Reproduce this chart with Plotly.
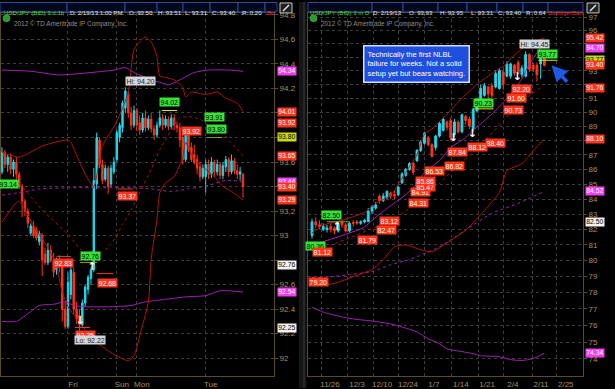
import math
import plotly.graph_objects as go

# ------------------------------------------------------------------
# DATA - left panel: USD/JPY (BID) 3 d 1h  (hourly bars, index 0..84)
# ------------------------------------------------------------------
h_open = [93.52, 93.68, 93.58, 93.64, 93.54, 93.60, 93.50, 93.40, 93.28, 93.20,
          93.02, 93.08, 93.05, 92.95, 93.00, 92.85, 92.78, 92.88, 92.80, 92.72,
          92.80, 92.78, 92.40, 92.26, 92.52, 92.70, 92.40, 92.35, 92.27, 92.45,
          92.56, 92.65, 92.72, 93.42, 93.78, 93.58, 93.46, 93.55, 93.42, 93.52,
          93.62, 93.80, 93.88, 94.04, 94.15, 94.00, 93.90, 94.02, 93.92, 93.86,
          93.96, 93.88, 93.95, 93.87, 93.82, 93.90, 93.96, 93.90, 93.95, 93.89,
          93.96, 93.90, 93.88, 93.80, 93.62, 93.85, 93.72, 93.66, 93.62, 93.56,
          93.48, 93.48, 93.58, 93.50, 93.60, 93.52, 93.58, 93.49, 93.56, 93.62,
          93.52, 93.61, 93.53, 93.50, 93.50]
h_high = [93.72, 93.70, 93.66, 93.67, 93.62, 93.64, 93.52, 93.42, 93.30, 93.22,
          93.10, 93.12, 93.07, 93.04, 93.02, 92.90, 92.94, 92.92, 92.86, 92.82,
          92.84, 92.80, 92.46, 92.70, 92.76, 92.74, 92.46, 92.40, 92.48, 92.60,
          92.68, 92.74, 93.55, 93.84, 93.80, 93.62, 93.58, 93.57, 93.58, 93.64,
          93.86, 93.92, 94.10, 94.21, 94.18, 94.05, 94.06, 94.04, 93.98, 94.00,
          94.02, 93.98, 94.00, 93.90, 93.93, 94.02, 93.99, 93.98, 93.97, 93.99,
          93.99, 93.93, 93.92, 93.86, 93.88, 93.87, 93.76, 93.74, 93.66, 93.60,
          93.58, 93.62, 93.62, 93.64, 93.62, 93.62, 93.60, 93.60, 93.65, 93.64,
          93.66, 93.63, 93.58, 93.56, 93.51]
h_low = [93.50, 93.55, 93.52, 93.50, 93.48, 93.46, 93.38, 93.15, 93.16, 93.06,
         93.00, 92.98, 92.96, 92.92, 92.67, 92.76, 92.76, 92.78, 92.66, 92.68,
         92.70, 92.30, 92.24, 92.24, 92.48, 92.36, 92.28, 92.22, 92.25, 92.42,
         92.52, 92.60, 92.70, 93.38, 93.55, 93.42, 93.44, 93.34, 93.40, 93.50,
         93.60, 93.76, 93.84, 94.00, 93.96, 93.86, 93.88, 93.85, 93.82, 93.84,
         93.85, 93.86, 93.84, 93.78, 93.80, 93.88, 93.86, 93.88, 93.86, 93.87,
         93.86, 93.84, 93.72, 93.58, 93.60, 93.68, 93.60, 93.58, 93.50, 93.44,
         93.46, 93.35, 93.46, 93.47, 93.48, 93.49, 93.46, 93.46, 93.52, 93.48,
         93.50, 93.50, 93.46, 93.45, 93.31]
h_close = [93.68, 93.58, 93.64, 93.54, 93.60, 93.50, 93.40, 93.28, 93.20, 93.10,
           93.08, 93.00, 92.98, 93.02, 92.80, 92.78, 92.88, 92.80, 92.70, 92.78,
           92.76, 92.40, 92.26, 92.62, 92.72, 92.40, 92.32, 92.27, 92.45, 92.58,
           92.66, 92.72, 93.45, 93.80, 93.58, 93.45, 93.55, 93.40, 93.55, 93.60,
           93.84, 93.90, 94.08, 94.18, 94.00, 93.90, 94.02, 93.90, 93.86, 93.96,
           93.88, 93.95, 93.87, 93.82, 93.90, 93.96, 93.90, 93.95, 93.89, 93.96,
           93.90, 93.88, 93.78, 93.62, 93.85, 93.70, 93.62, 93.60, 93.55, 93.48,
           93.55, 93.58, 93.50, 93.60, 93.52, 93.58, 93.49, 93.57, 93.62, 93.52,
           93.61, 93.53, 93.50, 93.52, 93.40]
h_xtick_labels = ["Fri", "Sun", "Mon", "Tue"]
h_xtick_bars = [23, 40, 47, 71]
h_ytick_values = [92.0, 92.2, 92.4, 92.6, 92.8, 93.0, 93.2, 93.4, 93.6, 93.8, 94.0, 94.2, 94.4, 94.6, 94.8]
# labels left blank are the ones covered by price bubbles in the reference
h_ytick_labels = ["92", "92.2", "92.4", "92.6", "", "93", "93.2", "",
                  "93.6", "", "", "94.2", "94.4", "94.6", "94.8"]

# study lines (bar index, price)
h_bbl_up_i = [0, 10, 20, 31, 39, 43, 46, 52, 55, 58, 62, 67, 72, 79, 84]
h_bbl_up_v = [94.35, 94.34, 94.31, 94.33, 94.35, 94.37, 94.33, 94.27, 94.25, 94.23, 94.27, 94.33, 94.35, 94.35, 94.34]
h_bbl_lo_i = [0, 5, 10, 13, 18, 22, 25, 29, 38, 45, 50, 57, 64, 71, 76, 84]
h_bbl_lo_v = [92.30, 92.30, 92.38, 92.43, 92.44, 92.46, 92.43, 92.42, 92.42, 92.43, 92.46, 92.48, 92.50, 92.51, 92.55, 92.54]
h_bbl_mid_i = [0, 6, 13, 24, 34, 45, 52, 59, 65, 72, 78, 84]
h_bbl_mid_v = [93.33, 93.35, 93.38, 93.39, 93.39, 93.39, 93.38, 93.36, 93.38, 93.41, 93.45, 93.44]
h_bb_up_i = [0, 6, 14, 20, 23, 24, 27, 30, 32, 35, 40, 44, 46, 48, 50, 52, 54, 55, 57, 60, 63, 64, 66, 71, 75, 78, 82, 84]
h_bb_up_v = [93.68, 93.64, 93.73, 93.77, 93.78, 93.76, 93.60, 93.46, 93.40, 93.73, 93.93, 94.17, 94.52, 94.58,
             94.62, 94.58, 94.46, 94.30, 94.29, 94.27, 94.21, 94.13, 94.17, 94.15, 94.17, 94.12, 94.08, 94.01]
h_bb_lo_i = [0, 5, 6, 11, 17, 19, 21, 23, 28, 33, 39, 44, 46, 48, 51, 52, 54, 55, 57, 60, 63, 64, 67, 71, 74, 77, 80, 84]
h_bb_lo_v = [93.11, 93.27, 93.28, 93.08, 92.86, 92.75, 92.54, 92.42, 92.26, 92.13, 92.03, 91.98, 92.02, 92.18,
             92.46, 92.81, 93.13, 93.35, 93.43, 93.48, 93.64, 93.76, 93.62, 93.54, 93.48, 93.40, 93.36, 93.29]
h_bb_mid_i = [6, 14, 23, 28, 32, 38, 42, 45, 48, 52, 55, 59, 62, 65, 69, 72, 76, 79, 84]
h_bb_mid_v = [93.43, 93.21, 93.01, 92.87, 92.82, 92.93, 93.09, 93.21, 93.35, 93.54, 93.70, 93.86, 93.96, 93.97,
              93.95, 93.90, 93.86, 93.78, 93.65]

# price bubbles in the left chart
h_lbl_text = ["Hi: 94.20", "94.02", "93.92", "93.91", "93.80", "93.37", "93.14", "92.83", "92.76", "92.68", "92.25", "Lo: 92.22"]
h_lbl_bar = [48.4, 58.5, 65.9, 73.9, 74.6, 43.9, 2.1, 21.6, 31.0, 36.6, 29.0, 30.7]
h_lbl_price = [94.26, 94.09, 93.85, 93.97, 93.87, 93.32, 93.42, 92.78, 92.83, 92.61, 92.19, 92.15]
h_lbl_kind = ["extreme", "buy", "sell", "buy", "buy", "sell", "buy", "sell", "buy", "sell", "sell", "extreme"]
h_arrow_bar = [31.4, 27.2]
h_arrow_price = [92.74, 92.30]
h_arrow_dir = ["up", "down"]
h_sig_from = [55.7, 27.2, 71.4, 19.0, 33.0, 25.4, 40.4]
h_sig_to = [61.0, 33.1, 76.7, 24.0, 38.7, 30.7, 45.6]
h_sig_level = [94.02, 92.78, 93.80, 92.83, 92.69, 92.25, 93.38]
h_sig_kind = ["buy", "hold", "hold", "sell", "sell", "sell", "sell"]

# price-axis bubbles, left chart
h_axis_text = ["94.34", "94.01", "93.92", "93.80", "93.65", "93.44", "93.40", "93.29", "92.76", "92.54", "92.25"]
h_axis_kind = ["ma", "band", "band", "hold", "band", "ma", "band", "band", "mark", "ma", "mark"]

# ------------------------------------------------------------------
# DATA - right panel: USD/JPY (BID) 3 m D  (daily bars, index 0..62)
# ------------------------------------------------------------------
d_open = [81.6, 82.5, 82.3, 82.0, 82.0, 82.2, 82.1, 81.9, 82.5, 82.3,
          81.9, 82.45, 82.5, 82.4, 82.5, 82.5, 83.2, 83.4, 84.2, 83.9,
          84.1, 84.4, 84.3, 84.3, 85.1, 85.6, 86.0, 86.4, 86.6, 87.3,
          87.8, 88.2, 87.7, 87.5, 88.3, 88.7, 89.3, 89.4, 88.4, 89.3,
          88.6, 89.7, 89.5, 88.8, 90.1, 90.9, 91.2, 91.8, 91.9, 91.8,
          91.7, 92.9, 92.6, 92.6, 93.4, 93.6, 92.7, 92.6, 94.2, 93.4,
          93.4, 93.5, 93.93]
d_high = [82.7, 82.8, 82.6, 82.4, 82.3, 82.4, 82.2, 82.5, 82.6, 82.4,
          82.5, 82.6, 82.6, 82.6, 82.7, 83.4, 83.6, 83.8, 84.3, 84.4,
          84.6, 84.5, 84.6, 84.9, 85.8, 86.1, 86.5, 86.5, 87.4, 88.0,
          88.6, 88.3, 87.8, 88.4, 89.3, 89.6, 89.4, 89.6, 89.5, 89.4,
          89.9, 89.8, 89.7, 90.3, 91.0, 92.0, 92.1, 91.9, 92.1, 93.0,
          93.2, 93.1, 93.7, 93.6, 93.5, 93.8, 93.4, 94.45, 94.3, 93.6,
          93.6, 94.0, 93.95]
d_low = [81.4, 82.1, 82.0, 81.9, 81.8, 81.8, 81.7, 81.8, 82.1, 81.8,
         81.8, 82.2, 82.3, 82.3, 82.4, 82.5, 83.0, 83.3, 83.7, 83.8,
         84.0, 84.0, 84.0, 84.2, 85.0, 85.5, 85.9, 85.6, 86.5, 87.2,
         87.7, 87.6, 86.8, 87.3, 88.2, 88.6, 88.7, 88.0, 88.2, 88.5,
         88.5, 89.1, 88.8, 88.6, 90.0, 90.8, 91.1, 90.8, 91.0, 91.7,
         91.6, 91.6, 92.5, 92.4, 92.6, 92.7, 92.5, 92.5, 92.9, 92.9,
         92.2, 92.4, 93.31]
d_close = [82.5, 82.3, 82.2, 82.2, 82.1, 82.0, 81.9, 82.3, 82.3, 81.9,
           82.4, 82.4, 82.4, 82.5, 82.6, 83.2, 83.5, 83.6, 83.9, 84.2,
           84.5, 84.2, 84.2, 84.8, 85.7, 86.0, 86.4, 85.8, 87.3, 87.9,
           88.5, 87.7, 86.9, 88.3, 89.2, 89.5, 88.9, 88.2, 89.3, 88.6,
           89.8, 89.4, 89.0, 90.2, 90.9, 91.7, 91.9, 91.3, 91.2, 92.8,
           93.0, 92.0, 93.5, 93.5, 92.8, 92.8, 93.2, 94.2, 93.1, 93.1,
           92.7, 93.9, 93.40]
d_xtick_labels = ["11/26", "12/3", "12/10", "12/24", "1/7", "1/14", "1/21", "2/4", "2/11", "2/25"]
d_xtick_bars = [2.4, 9.6, 16.3, 23.2, 30.1, 37.3, 44.3, 51.2, 58.7, 65.3]
d_ytick_values = list(range(74, 98))
# blank = covered by a price bubble in the reference
d_ytick_labels = [str(v) if v not in (88, 92, 94, 95) else "" for v in d_ytick_values]

d_bb_up_i = [0, 3, 8, 14, 17, 21, 23, 25, 28, 30, 32, 36, 40, 44, 48, 52, 53, 56, 59, 62]
d_bb_up_v = [81.77, 82.28, 82.60, 83.12, 83.71, 84.24, 85.0, 85.8, 87.0, 88.45, 88.80, 89.85, 90.99, 92.00,
             92.80, 93.53, 93.90, 94.64, 95.16, 95.42]
d_ma_i = [2, 10, 14, 16, 20, 25, 28, 30, 34, 37, 41, 43, 48, 52, 56, 58, 61]
d_ma_v = [81.13, 81.77, 82.15, 82.60, 83.38, 84.3, 85.0, 85.8, 86.6, 87.5, 88.2, 88.7, 89.85, 91.0, 92.4, 93.5, 94.70]
d_bb_mid_i = [0, 5, 10, 15, 21, 26, 30, 34, 38, 42, 46, 51, 55, 61]
d_bb_mid_v = [80.69, 81.0, 81.45, 81.96, 82.54, 83.38, 84.17, 85.05, 86.05, 86.93, 87.96, 89.36, 90.56, 91.76]
d_bb_lo_i = [0, 3, 7, 11, 16, 19, 22, 25, 29, 32, 36, 41, 46, 50, 52, 56, 59, 62]
d_bb_lo_v = [78.51, 78.45, 78.63, 79.0, 79.43, 80.06, 80.88, 81.0, 80.69, 80.56, 81.13, 81.96, 83.25, 84.44,
             85.91, 86.39, 87.27, 88.10]
d_bbl_mid_i = [0, 3, 10, 16, 21, 26, 34, 41, 48, 55, 62]
d_bbl_mid_v = [78.94, 78.94, 79.12, 79.31, 79.74, 80.06, 80.88, 81.96, 83.06, 83.71, 84.52]
d_bbl_lo_i = [0, 3, 7, 11, 16, 21, 24, 28, 31, 34, 36, 40, 43, 45, 50, 53, 56, 59, 62]
d_bbl_lo_v = [77.10, 76.80, 76.56, 76.38, 76.26, 76.08, 75.90, 75.60, 75.19, 74.90, 74.60, 74.43, 74.31,
              74.19, 74.13, 73.96, 73.91, 74.02, 74.34]

d_lbl_text = ["Hi: 94.45", "93.77", "92.20", "91.60", "90.73", "90.23", "88.40", "88.12", "87.84", "86.82",
              "86.53", "84.91", "85.47", "85.86", "84.31", "83.12", "82.47", "81.79", "82.50", "80.36",
              "81.12", "79.20"]
d_lbl_bar = [59.4, 62.8, 55.9, 54.5, 53.7, 45.7, 48.9, 44.1, 38.8, 38.0,
             32.6, 28.9, 30.2, 30.2, 28.3, 20.6, 19.8, 14.7, 5.3, 0.8, 2.7, 1.6]
d_lbl_price = [95.02, 94.27, 91.65, 90.99, 90.14, 90.63, 87.83, 87.55, 87.2, 86.25,
               85.91, 84.5, 84.84, 85.24, 83.71, 82.54, 81.96, 81.32, 82.93, 80.94, 80.56, 78.63]
d_lbl_kind = ["extreme", "buy", "sell", "sell", "sell", "buy", "sell", "sell", "sell", "sell",
              "sell", "sell", "sell", "sell", "sell", "sell", "sell", "sell", "buy", "buy", "sell", "sell"]
d_arrow_bar = [6.7, 37.7, 42.8, 54.8]
d_arrow_price = [82.15, 88.17, 88.45, 92.5]
d_arrow_dir = ["up", "down", "down", "down"]
d_sig_from = [43.3, 60.4, 4.0]
d_sig_to = [48.4, 65.5, 10.0]
d_sig_level = [90.23, 93.77, 82.50]
d_sig_kind = ["buy", "buy", "hold"]

d_axis_text = ["95.42", "94.70", "93.77", "93.40", "91.76", "88.10", "84.52", "82.50", "74.34"]
d_axis_kind = ["band", "ma", "hold", "band", "band", "band", "ma", "mark", "ma"]

note_text = "Technically the first NLBL<br>failure for weeks. Not a solid<br>setup yet but bears watching."

# ------------------------------------------------------------------
# STYLE / LAYOUT
# ------------------------------------------------------------------
W, H = 615, 389
FONT = "Liberation Sans, Arial, sans-serif"


def fx(px):
    return px / W


def fy(py):
    return 1 - py / H


CYAN = "#1fd8ec"
RED = "#ff3418"
DRED = "#b3140c"
PURP = "#a21fb5"
TAN = "#a8915e"
GRID = "#3d3d3d"
FRAME = "#5c4b28"
BOX = {
    "sell": ("#ff3418", "#ffffff"),
    "band": ("#ff3418", "#ffffff"),
    "buy": ("#36e436", "#000000"),
    "extreme": ("#d6d6d6", "#202020"),
    "ma": ("#f23ef2", "#ffffff"),
    "hold": ("#c4dc12", "#000000"),
    "mark": ("#f2f2f2", "#000000"),
}
SIGC = {"buy": "#e8e020", "hold": "#9a9a10", "sell": "#ff3418"}

fig = go.Figure()


def candles(o, h, l, c, xa, ya):
    fig.add_trace(go.Candlestick(
        x=list(range(len(o))), open=o, high=h, low=l, close=c, xaxis=xa, yaxis=ya,
        increasing=dict(line=dict(color=CYAN, width=1), fillcolor=CYAN),
        decreasing=dict(line=dict(color=RED, width=1), fillcolor=RED),
        whiskerwidth=0, showlegend=False, hoverinfo="skip"))


def line(idx, val, color, dash, xa, ya):
    fig.add_trace(go.Scatter(
        x=idx, y=val, mode="lines", xaxis=xa, yaxis=ya, showlegend=False, hoverinfo="skip",
        line=dict(color=color, width=1, dash=dash, shape="spline", smoothing=0.6)))


def signals(a, b, lev, kind, xa, ya):
    for x0, x1, v, k in zip(a, b, lev, kind):
        fig.add_trace(go.Scatter(x=[x0, x1], y=[v, v], mode="lines", xaxis=xa, yaxis=ya,
                                 showlegend=False, hoverinfo="skip",
                                 line=dict(color=SIGC[k], width=1)))


# left panel
line(h_bbl_up_i, h_bbl_up_v, PURP, "solid", "x", "y")
line(h_bbl_lo_i, h_bbl_lo_v, PURP, "solid", "x", "y")
line(h_bbl_mid_i, h_bbl_mid_v, PURP, "3px,3px", "x", "y")
line(h_bb_up_i, h_bb_up_v, DRED, "solid", "x", "y")
line(h_bb_lo_i, h_bb_lo_v, DRED, "solid", "x", "y")
line(h_bb_mid_i, h_bb_mid_v, DRED, "3px,3px", "x", "y")
signals(h_sig_from, h_sig_to, h_sig_level, h_sig_kind, "x", "y")
candles(h_open, h_high, h_low, h_close, "x", "y")

# right panel
line(d_bbl_lo_i, d_bbl_lo_v, PURP, "solid", "x2", "y2")
line(d_bbl_mid_i, d_bbl_mid_v, PURP, "3px,3px", "x2", "y2")
line(d_ma_i, d_ma_v, PURP, "solid", "x2", "y2")
line(d_bb_up_i, d_bb_up_v, DRED, "solid", "x2", "y2")
line(d_bb_lo_i, d_bb_lo_v, DRED, "solid", "x2", "y2")
line(d_bb_mid_i, d_bb_mid_v, DRED, "3px,3px", "x2", "y2")
signals(d_sig_from, d_sig_to, d_sig_level, d_sig_kind, "x2", "y2")
candles(d_open, d_high, d_low, d_close, "x2", "y2")

# white signal arrows
for bars, prices, dirs, xa, ya in [(h_arrow_bar, h_arrow_price, h_arrow_dir, "x", "y"),
                                   (d_arrow_bar, d_arrow_price, d_arrow_dir, "x2", "y2")]:
    fig.add_trace(go.Scatter(
        x=bars, y=prices, mode="text", xaxis=xa, yaxis=ya, showlegend=False, hoverinfo="skip",
        text=["<b>↑</b>" if d == "up" else "<b>↓</b>" for d in dirs],
        textfont=dict(color="#ffffff", size=11, family="DejaVu Sans")))

ann = []
# price bubbles inside charts
for texts, bars, prices, kinds, xr, yr in [(h_lbl_text, h_lbl_bar, h_lbl_price, h_lbl_kind, "x", "y"),
                                           (d_lbl_text, d_lbl_bar, d_lbl_price, d_lbl_kind, "x2", "y2")]:
    for t, b, p, k in zip(texts, bars, prices, kinds):
        bg, fg = BOX[k]
        yv = math.log10(p) if yr == "y2" else p
        ann.append(dict(x=b, y=yv, xref=xr, yref=yr, text=t, showarrow=False, bgcolor=bg,
                        font=dict(size=7, color=fg, family=FONT), borderpad=0.5))

# price-axis bubbles
for texts, kinds, yr, xpx in [(h_axis_text, h_axis_kind, "y", 277), (d_axis_text, d_axis_kind, "y2", 585)]:
    for t, k in zip(texts, kinds):
        bg, fg = BOX[k]
        v = float(t)
        yv = math.log10(v) if yr == "y2" else v
        ann.append(dict(x=fx(xpx), y=yv, xref="paper", yref=yr, text=t, showarrow=False,
                        xanchor="left", bgcolor=bg, font=dict(size=6.8, color=fg, family=FONT), borderpad=0.3))

# comment box and blue arrow
ann.append(dict(x=fx(363), y=fy(43), xref="paper", yref="paper", xanchor="left", yanchor="top",
                text=note_text, align="left", showarrow=False, bgcolor="#1f4fdc",
                bordercolor="#cfe0ff", borderwidth=1.5, borderpad=3,
                font=dict(size=7.5, color="#ffffff", family=FONT)))
ann.append(dict(x=63.9, y=math.log10(93.4), xref="x2", yref="y2", ax=17, ay=18, text="",
                showarrow=True, arrowhead=2, arrowsize=0.9, arrowwidth=3.5, arrowcolor="#1f5ae6"))

shapes = []
# header bars
HDR_TXT = "#e0e4ee"
hdr = [
    [("USD/JPY (BID) 3 d 1h", 0, 67, "#44d844"), ("D: 2/19/13 1:00 PM", 67, 125, HDR_TXT),
     ("O: 93.50", 125, 157, HDR_TXT), ("H: 93.51", 157, 183, HDR_TXT), ("L: 93.31", 183, 210, HDR_TXT),
     ("C: 93.40", 210, 238, HDR_TXT), ("R: 0.20", 238, 265, HDR_TXT), ("Bo", 265, 277, "#e82828")],
    [("USD/JPY (BID) 3 m D", 308, 372, "#44d844"), ("D: 2/19/13", 372, 403, HDR_TXT),
     ("O: 93.93", 403, 438, HDR_TXT), ("H: 93.95", 438, 467, HDR_TXT), ("L: 93.31", 467, 497, HDR_TXT),
     ("C: 93.40", 497, 523, HDR_TXT), ("R: 0.64", 523, 548, HDR_TXT), ("BollingerBan", 548, 583, "#e82828")],
]
for grp in hdr:
    for t, a, b, col in grp:
        shapes.append(dict(type="rect", xref="paper", yref="paper", x0=fx(a), x1=fx(b), y0=fy(10), y1=fy(0.5),
                           fillcolor="#00081c", line=dict(color="#2b4d9c", width=1), layer="above"))
        ann.append(dict(x=fx((a + b) / 2), y=fy(5.3), xref="paper", yref="paper", xanchor="center", text=t,
                        showarrow=False, font=dict(size=6.1, color=col, family=FONT)))
# icons
for a in (280, 587):
    shapes.append(dict(type="rect", xref="paper", yref="paper", x0=fx(a), x1=fx(a + 12), y0=fy(11), y1=fy(1),
                       fillcolor="#202020", line=dict(color="#c8c8c8", width=1), layer="above"))
    shapes.append(dict(type="line", xref="paper", yref="paper", x0=fx(a + 3), x1=fx(a + 9), y0=fy(9), y1=fy(3),
                       line=dict(color="#e8e8e8", width=1.5), layer="above"))
# copyright line
for a in (3, 310):
    shapes.append(dict(type="circle", xref="paper", yref="paper", x0=fx(a), x1=fx(a + 7), y0=fy(20), y1=fy(13),
                       fillcolor="#2a9a2a", line=dict(color="#60d060", width=0.5), layer="above"))
    ann.append(dict(x=fx(a + 9), y=fy(16.5), xref="paper", yref="paper", xanchor="left",
                    text="2012 © TD Ameritrade IP Company, Inc.", showarrow=False,
                    font=dict(size=6.4, color="#8e8e8e", family=FONT)))
# panel separator
shapes.append(dict(type="rect", xref="paper", yref="paper", x0=fx(299), x1=fx(306.5), y0=0, y1=1,
                   fillcolor="#161616", line=dict(width=0), layer="above"))
shapes.append(dict(type="line", xref="paper", yref="paper", x0=fx(304), x1=fx(304), y0=0, y1=1,
                   line=dict(color="#3a3a3a", width=1), layer="above"))

common_x = dict(showgrid=True, gridcolor=GRID, griddash="dot", gridwidth=1, zeroline=False,
                showline=True, linecolor=FRAME, mirror=True, ticks="",
                tickfont=dict(size=8, color=TAN, family=FONT), rangeslider=dict(visible=False),
                fixedrange=True)
common_y = dict(showgrid=True, gridcolor=GRID, griddash="dot", gridwidth=1, zeroline=False,
                showline=True, linecolor=FRAME, mirror=True, side="right", ticks="outside",
                ticklen=3, tickcolor=FRAME, tickfont=dict(size=8, color=TAN, family=FONT),
                fixedrange=True)

fig.update_layout(
    width=W, height=H, margin=dict(l=0, r=0, t=0, b=0),
    paper_bgcolor="#000000", plot_bgcolor="#000000", showlegend=False, hovermode=False,
    xaxis=dict(domain=[fx(1), fx(274)], range=[-0.35, 94.8], anchor="y", ticklabelshift=5,
               tickvals=h_xtick_bars, ticktext=h_xtick_labels, **common_x),
    yaxis=dict(domain=[fy(377), fy(11)], range=[91.854, 94.816], anchor="x",
               tickvals=h_ytick_values, ticktext=h_ytick_labels, **common_y),
    xaxis2=dict(domain=[fx(308), fx(583)], range=[-1.07, 72.3], anchor="y2", ticklabelshift=9,
                tickvals=d_xtick_bars, ticktext=d_xtick_labels, **common_x),
    yaxis2=dict(domain=[fy(377), fy(11)], type="log", range=[math.log10(73.0), math.log10(97.36)],
                anchor="x2", tickvals=d_ytick_values, ticktext=d_ytick_labels, **common_y),
    annotations=ann, shapes=shapes,
)

fig.write_html("out.html", config={"displayModeBar": False, "staticPlot": True},
               post_script="document.body.style.margin='0';document.body.style.overflow='hidden';")
